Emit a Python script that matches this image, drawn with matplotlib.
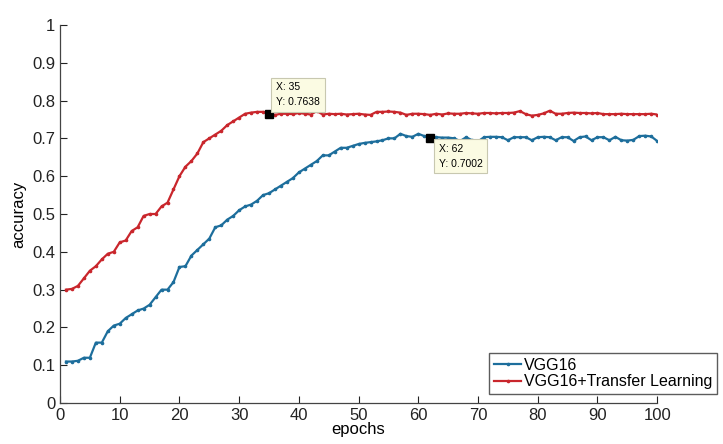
import matplotlib
matplotlib.use("Agg")
import matplotlib.pyplot as plt
import numpy as np

plt.rcParams['font.family'] = ['Liberation Sans', 'DejaVu Sans']

epochs = list(range(1, 101))

vgg16 = [
    0.110, 0.110, 0.112, 0.120, 0.120, 0.160, 0.160, 0.190, 0.205, 0.210,
    0.225, 0.235, 0.245, 0.250, 0.260, 0.280, 0.300, 0.300, 0.320, 0.360,
    0.362, 0.390, 0.405, 0.420, 0.435, 0.465, 0.470, 0.485, 0.495, 0.510,
    0.520, 0.525, 0.535, 0.550, 0.555, 0.565, 0.575, 0.585, 0.595, 0.610,
    0.620, 0.630, 0.640, 0.655, 0.655, 0.665, 0.675, 0.675, 0.680, 0.685,
    0.688, 0.690, 0.692, 0.695, 0.700, 0.700, 0.712, 0.706, 0.704, 0.712,
    0.706, 0.7002, 0.703, 0.702, 0.702, 0.700, 0.693, 0.703, 0.695, 0.692,
    0.703, 0.704, 0.704, 0.703, 0.695, 0.703, 0.703, 0.703, 0.695, 0.703,
    0.704, 0.703, 0.695, 0.703, 0.703, 0.693, 0.703, 0.705, 0.695, 0.703,
    0.703, 0.695, 0.704, 0.695, 0.694, 0.696, 0.706, 0.707, 0.705, 0.693,
]

vgg16_tl = [
    0.300, 0.302, 0.310, 0.330, 0.350, 0.362, 0.380, 0.395, 0.400, 0.425,
    0.430, 0.455, 0.465, 0.495, 0.500, 0.500, 0.520, 0.530, 0.565, 0.600,
    0.625, 0.640, 0.660, 0.690, 0.700, 0.710, 0.720, 0.735, 0.745, 0.755,
    0.765, 0.768, 0.770, 0.770, 0.7638, 0.762, 0.765, 0.765, 0.764, 0.767,
    0.765, 0.763, 0.772, 0.763, 0.765, 0.764, 0.765, 0.763, 0.764, 0.765,
    0.763, 0.762, 0.770, 0.770, 0.771, 0.770, 0.768, 0.762, 0.765, 0.765,
    0.764, 0.762, 0.765, 0.763, 0.766, 0.765, 0.765, 0.767, 0.766, 0.765,
    0.767, 0.767, 0.766, 0.767, 0.767, 0.768, 0.772, 0.764, 0.760, 0.762,
    0.766, 0.773, 0.765, 0.765, 0.767, 0.768, 0.767, 0.767, 0.766, 0.767,
    0.764, 0.764, 0.764, 0.765, 0.764, 0.764, 0.764, 0.764, 0.765, 0.763,
]

series_labels = ["VGG16", "VGG16+Transfer Learning"]
xticks = list(range(0, 101, 10))
yticks = [0, 0.1, 0.2, 0.3, 0.4, 0.5, 0.6, 0.7, 0.8, 0.9, 1]
ytick_labels = ["0", "0.1", "0.2", "0.3", "0.4", "0.5", "0.6", "0.7", "0.8", "0.9", "1"]
tips = [(35, 0.7638), (62, 0.7002)]

blue = '#1d6e9c'
red = '#c9262c'

fig = plt.figure(figsize=(7.23, 4.44), dpi=100)
ax = fig.add_axes([0.083, 0.092, 0.826, 0.852])

ax.plot(epochs, vgg16, color=blue, lw=1.6, marker='.', ms=3.2, label=series_labels[0])
ax.plot(epochs, vgg16_tl, color=red, lw=1.6, marker='.', ms=3.2, label=series_labels[1])

ax.set_xlim(0, 100)
ax.set_ylim(0, 1)
ax.set_xticks(xticks)
ax.set_yticks(yticks)
ax.set_yticklabels(ytick_labels)
ax.tick_params(direction='in', labelsize=12, length=5, width=0.8, colors='#222222')
for s in ['top', 'right']:
    ax.spines[s].set_visible(False)
for s in ['left', 'bottom']:
    ax.spines[s].set_color('#444444')
    ax.spines[s].set_linewidth(0.9)

ax.set_xlabel('epochs', fontsize=12, labelpad=-1)
ax.set_ylabel('accuracy', fontsize=12, labelpad=4)

# data tips
for (tx, ty), off, va in zip(tips, [(5, 5), (6, -4)], ['bottom', 'top']):
    ax.plot([tx], [ty], marker='s', color='black', ms=6, ls='none', zorder=5)
    ax.annotate(f"X: {tx}\nY: {ty:.4f}", xy=(tx, ty), xytext=off,
                textcoords='offset points', ha='left', va=va, fontsize=7.5,
                linespacing=1.6,
                bbox=dict(boxstyle='square,pad=0.45', fc='#fbfbe3', ec='#c8c8b0', lw=0.8),
                zorder=6)

leg = ax.legend(loc='lower right', bbox_to_anchor=(1.10, 0.024), fontsize=11.5,
                frameon=True, fancybox=False, handlelength=1.7, handletextpad=0.15,
                borderpad=0.3, labelspacing=0.1, borderaxespad=0)
leg.get_frame().set_edgecolor('#333333')
leg.get_frame().set_linewidth(1.0)

fig.savefig('out.png', dpi=100)
